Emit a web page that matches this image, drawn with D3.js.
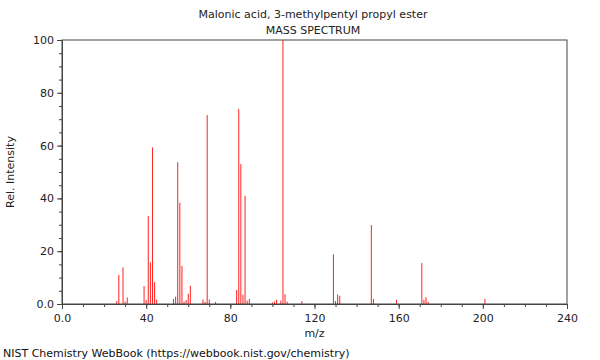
<!DOCTYPE html>
<html>
<head>
<meta charset="utf-8">
<script src="https://cdn.jsdelivr.net/npm/d3@7"></script>
<style>
body { margin: 0; background: #fff; }
text { font-family: "DejaVu Sans", sans-serif; }
</style>
</head>
<body>
<svg id="chart" width="600" height="360"></svg>
<script>
const title = "Malonic acid, 3-methylpentyl propyl ester";
const subtitle = "MASS SPECTRUM";
const xLabel = "m/z";
const yLabel = "Rel. Intensity";
const footer = "NIST Chemistry WebBook (https://webbook.nist.gov/chemistry)";

const mz = [26, 27, 29, 30, 31, 39, 40, 41, 42, 43, 44, 45,
  53, 54, 55, 56, 57, 58, 59, 60, 61, 67, 68, 69, 70, 73,
  83, 84, 85, 86, 87, 88, 89, 100, 101, 102, 104, 105, 106, 107, 114,
  129, 130, 131, 132, 147, 148, 159, 171, 172, 173, 174, 201];
const intensity = [1.1, 11, 13.9, 0.9, 2.5, 6.8, 1.5, 33.3, 15.8, 59.3, 8.3, 1.7,
  1.9, 2.8, 53.7, 38.4, 14.4, 0.9, 1.5, 3.9, 6.9, 1.7, 0.8, 71.6, 1.7, 0.8,
  5.3, 73.9, 53.0, 3.5, 41.0, 1.3, 1.9, 0.6, 0.9, 1.6, 1.3, 100, 3.7, 0.9, 1.1,
  18.8, 1.1, 3.6, 3.1, 29.9, 1.9, 1.6, 15.5, 1.6, 2.6, 0.8, 2.0];

const xMajor = [0, 40, 80, 120, 160, 200, 240];
const xMajorLabels = ["0.0", "40", "80", "120", "160", "200", "240"];
const yMajor = [0, 20, 40, 60, 80, 100];
const yMajorLabels = ["0.0", "20", "40", "60", "80", "100"];

(function () {
const svg = d3.select("#chart");
const mLeft = 62, mRight = 567, mTop = 40, mBottom = 304;
const x = d3.scaleLinear().domain([0, 240]).range([mLeft, mRight]);
const y = d3.scaleLinear().domain([0, 100]).range([mBottom, mTop]);
const axisColor = "#444";

// title
svg.append("text").attr("x", 313).attr("y", 18).attr("text-anchor", "middle")
  .attr("font-size", 11).attr("fill", "#222").text(title);
svg.append("text").attr("x", 313).attr("y", 34).attr("text-anchor", "middle")
  .attr("font-size", 11).attr("fill", "#222").text(subtitle);

// peaks
const data = mz.map((m, i) => ({ m, v: intensity[i] }));
svg.append("g").selectAll("line").data(data).join("line")
  .attr("x1", d => x(d.m)).attr("x2", d => x(d.m))
  .attr("y1", y(0)).attr("y2", d => y(d.v))
  .attr("stroke", "#ff2020").attr("stroke-width", 1);

// frame
svg.append("rect").attr("x", mLeft).attr("y", mTop)
  .attr("width", mRight - mLeft).attr("height", mBottom - mTop)
  .attr("fill", "none").attr("stroke", axisColor).attr("stroke-width", 1);

// x axis
const xAxis = svg.append("g").attr("transform", `translate(0,${mBottom})`)
  .call(d3.axisBottom(x).tickValues(d3.range(0, 241, 10)).tickSize(3).tickFormat(""));
xAxis.select(".domain").attr("stroke", axisColor);
xAxis.selectAll(".tick line").attr("stroke", axisColor);
const xAxisMaj = svg.append("g").attr("transform", `translate(0,${mBottom})`)
  .call(d3.axisBottom(x).tickValues(xMajor).tickSize(5)
    .tickFormat((d, i) => xMajorLabels[i]));
xAxisMaj.select(".domain").remove();
xAxisMaj.selectAll(".tick line").attr("stroke", axisColor);
xAxisMaj.selectAll(".tick text").attr("font-size", 11).attr("fill", "#222")
  .attr("font-family", "DejaVu Sans, sans-serif").attr("dy", "0.9em");

// y axis
const yAxis = svg.append("g").attr("transform", `translate(${mLeft},0)`)
  .call(d3.axisLeft(y).tickValues(d3.range(0, 101, 5)).tickSize(3).tickFormat(""));
yAxis.select(".domain").attr("stroke", axisColor);
yAxis.selectAll(".tick line").attr("stroke", axisColor);
const yAxisMaj = svg.append("g").attr("transform", `translate(${mLeft},0)`)
  .call(d3.axisLeft(y).tickValues(yMajor).tickSize(5)
    .tickFormat((d, i) => yMajorLabels[i]));
yAxisMaj.select(".domain").remove();
yAxisMaj.selectAll(".tick line").attr("stroke", axisColor);
yAxisMaj.selectAll(".tick text").attr("font-size", 11).attr("fill", "#222")
  .attr("font-family", "DejaVu Sans, sans-serif");

// axis labels
svg.append("text").attr("x", (mLeft + mRight) / 2).attr("y", 337).attr("text-anchor", "middle")
  .attr("font-size", 11).attr("fill", "#222").text(xLabel);
svg.append("text").attr("transform", `translate(14,${(mTop + mBottom) / 2}) rotate(-90)`)
  .attr("text-anchor", "middle").attr("font-size", 11).attr("fill", "#222").text(yLabel);

// footer
svg.append("text").attr("x", 3).attr("y", 357).attr("font-size", 11)
  .attr("fill", "#111").text(footer);
})();
</script>
</body>
</html>
